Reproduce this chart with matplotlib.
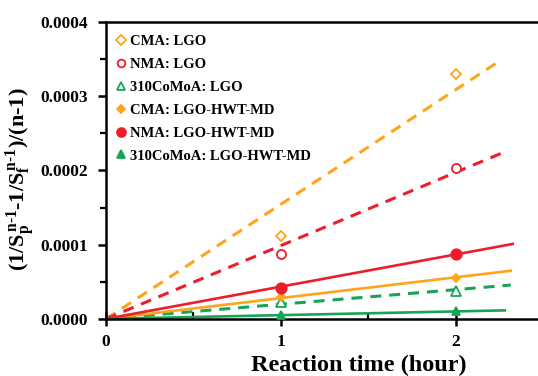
import matplotlib
matplotlib.use("Agg")
import matplotlib.pyplot as plt
from matplotlib.lines import Line2D
from matplotlib.ticker import FixedLocator
import numpy as np

plt.rcParams['font.family'] = ['Liberation Serif', 'DejaVu Serif']
plt.rcParams['font.weight'] = 'bold'
plt.rcParams['mathtext.fontset'] = 'custom'
plt.rcParams['mathtext.rm'] = 'Liberation Serif:bold'
plt.rcParams['mathtext.it'] = 'Liberation Serif:bold'
plt.rcParams['mathtext.bf'] = 'Liberation Serif:bold'

# Reaction time (hour)
hours = [1, 2]

# (1/Sp^(n-1) - 1/Sf^(n-1)) / (n-1)
series_labels = [
    "CMA: LGO",
    "NMA: LGO",
    "310CoMoA: LGO",
    "CMA: LGO-HWT-MD",
    "NMA: LGO-HWT-MD",
    "310CoMoA: LGO-HWT-MD",
]
cma_lgo = [1.12e-4, 3.30e-4]
nma_lgo = [0.875e-4, 2.03e-4]
como_lgo = [0.23e-4, 0.377e-4]
cma_hwt = [0.30e-4, 0.55e-4]
nma_hwt = [0.42e-4, 0.875e-4]
como_hwt = [0.05e-4, 0.10e-4]
series_values = [cma_lgo, nma_lgo, como_lgo, cma_hwt, nma_hwt, como_hwt]

x_ticks = [0, 1, 2]
x_ticklabels = ["0", "1", "2"]
y_ticks = [0.0, 0.0001, 0.0002, 0.0003, 0.0004]
y_ticklabels = ["0.0000", "0.0001", "0.0002", "0.0003", "0.0004"]

# extent of each fitted trend line (hours)
fit_end = [2.234, 2.28, 2.314, 2.314, 2.326, 2.28]

ORANGE = "#FFA41B"
RED = "#EE1D2B"
GREEN = "#17A457"
colors = [ORANGE, RED, GREEN, ORANGE, RED, GREEN]
markers = ["D", "o", "^", "D", "o", "^"]
filled = [False, False, False, True, True, True]
msizes = [5.5, 6.5, 6.5, 4.5, 7.5, 6]
linestyles = ["--", "--", "--", "-", "-", "-"]

fig = plt.figure(figsize=(5.38, 3.76), dpi=100)
ax = fig.add_axes([0.197, 0.152, 0.803, 0.7895])

x = np.array(hours, dtype=float)
handles = []
for lab, ys, xe, c, m, f, ms, ls in zip(series_labels, series_values, fit_end,
                                         colors, markers, filled, msizes, linestyles):
    ys = np.array(ys)
    # least-squares slope through the origin
    slope = np.sum(x * ys) / np.sum(x * x)
    xl = np.array([0.0, xe])
    if ls == "--":
        ax.plot(xl, slope * xl, color=c, lw=2.2, ls=(0, (3.6, 2.6)), zorder=2)
    else:
        ax.plot(xl, slope * xl, color=c, lw=1.9, ls="-", zorder=2)
    ax.plot(x, ys, ls="none", marker=m, ms=ms, color=c,
            mfc=c if f else "white", mec=c, mew=1.3, zorder=3)
    handles.append(Line2D([], [], ls="none", marker=m, ms=ms * 0.85, color=c,
                          mfc=c if f else "white", mec=c, mew=1.3))

ax.set_xlim(0, 2.47)
ax.set_ylim(0, 0.0004)

ax.xaxis.set_major_locator(FixedLocator(x_ticks))
ax.xaxis.set_minor_locator(FixedLocator([0.5, 1.5]))
ax.yaxis.set_major_locator(FixedLocator(y_ticks))
ax.yaxis.set_minor_locator(FixedLocator([0.00005, 0.00015, 0.00025, 0.00035]))
ax.set_xticklabels(x_ticklabels)
ax.set_yticklabels(y_ticklabels)

ax.tick_params(axis="x", which="major", direction="inout", length=10, width=1.8,
               labelsize=12.5, pad=6)
ax.tick_params(axis="x", which="minor", direction="in", length=5, width=1.6)
ax.tick_params(axis="y", which="major", direction="out", length=6, width=1.8,
               labelsize=12.5, pad=7)
ax.tick_params(axis="y", which="minor", direction="out", length=4, width=1.6)
for t in ax.get_xticklabels() + ax.get_yticklabels():
    t.set_fontweight("bold")

ax.spines["right"].set_visible(False)
for s in ("left", "top", "bottom"):
    ax.spines[s].set_linewidth(1.8)

ax.set_xlabel("Reaction time (hour)", fontsize=17.5, fontweight="bold")
ax.xaxis.set_label_coords(0.586, -0.12)
ax.set_ylabel(r"$\mathbf{(1/S_p^{\,n\text{-}1}\text{-}1/S_f^{\,n\text{-}1})/(n\text{-}1)}$",
              fontsize=16)
ax.yaxis.set_label_coords(-0.16, 0.47)

ax.legend(handles, series_labels, loc="upper left", frameon=False,
          prop={"family": "Liberation Serif", "weight": "bold", "size": 10.5},
          handlelength=0.6, handletextpad=0.35, labelspacing=0.66,
          borderaxespad=0.3, bbox_to_anchor=(0.0, 0.99))

fig.savefig("out.png", dpi=100)
